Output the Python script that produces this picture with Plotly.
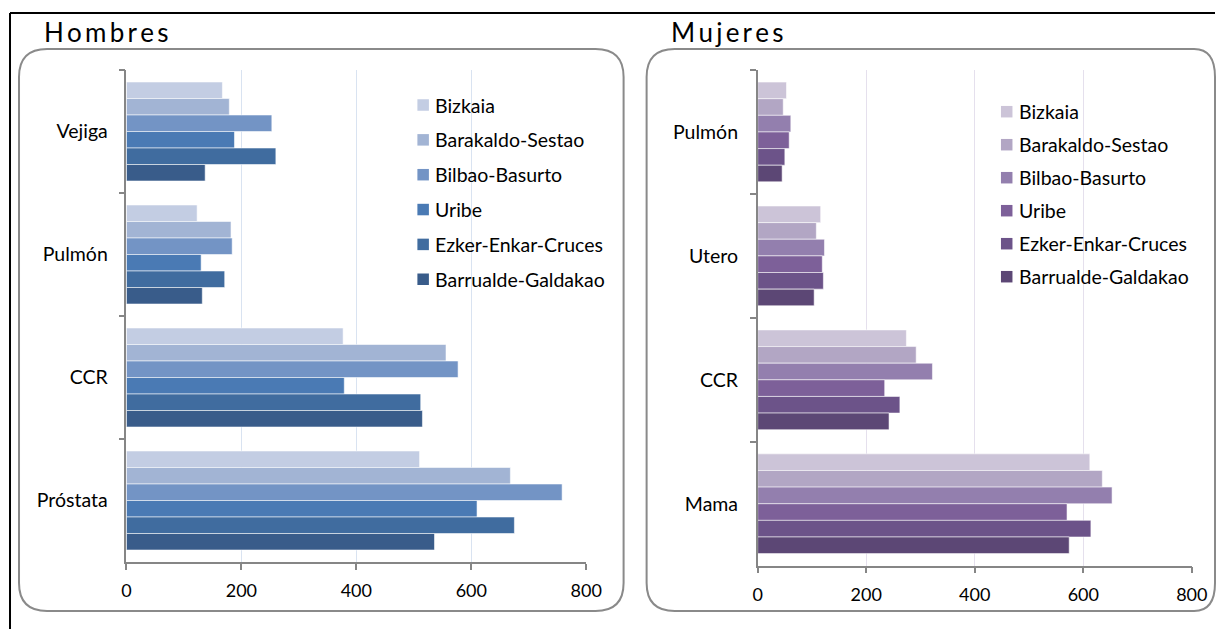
import plotly.graph_objects as go

W, H = 1231, 629

series = ["Bizkaia", "Barakaldo-Sestao", "Bilbao-Basurto", "Uribe",
          "Ezker-Enkar-Cruces", "Barrualde-Galdakao"]

# Hombres
cat_hombres = ["Vejiga", "Pulmón", "CCR", "Próstata"]
h_bizkaia = [167, 123, 377, 510]
h_barakaldo = [179, 182, 556, 668]
h_bilbao = [253, 184, 577, 758]
h_uribe = [188, 130, 379, 610]
h_ezker = [260, 171, 512, 675]
h_barrualde = [137, 132, 515, 536]

# Mujeres
cat_mujeres = ["Pulmón", "Utero", "CCR", "Mama"]
m_bizkaia = [53, 116, 274, 612]
m_barakaldo = [47, 108, 292, 635]
m_bilbao = [61, 123, 322, 653]
m_uribe = [58, 119, 234, 570]
m_ezker = [50, 121, 262, 614]
m_barrualde = [45, 104, 242, 574]

x_ticks = [0, 200, 400, 600, 800]

colors_h = ["#c3cde3", "#a2b4d4", "#7394c5", "#4a7ab4", "#406c9f", "#395c8a"]
colors_m = ["#ccc4d8", "#b2a6c4", "#937fae", "#7d6099", "#6c5389", "#5c4775"]

vals_h = [h_bizkaia, h_barakaldo, h_bilbao, h_uribe, h_ezker, h_barrualde]
vals_m = [m_bizkaia, m_barakaldo, m_bilbao, m_uribe, m_ezker, m_barrualde]

FONT = "Lato"

# horizontal calibration of the rendered page
X_OFF, X_SCALE = 6.0, 0.982


def px(x):
    return min(1.0, max(0.0, ((x - X_OFF) / X_SCALE) / W))


def py(y):
    return 1 - y / H


fig = go.Figure()
for name, v, c in zip(series, vals_h, colors_h):
    fig.add_trace(go.Bar(y=cat_hombres, x=v, name=name, orientation="h",
                         marker=dict(color=c, line=dict(color="rgba(255,255,255,0.55)", width=1)),
                         xaxis="x", yaxis="y", showlegend=False))
for name, v, c in zip(series, vals_m, colors_m):
    fig.add_trace(go.Bar(y=cat_mujeres, x=v, name=name, orientation="h",
                         marker=dict(color=c, line=dict(color="rgba(255,255,255,0.55)", width=1)),
                         xaxis="x2", yaxis="y2", showlegend=False))

axis_common = dict(showline=True, linecolor="#868686", linewidth=1.5,
                   ticks="outside", ticklen=6, tickcolor="#868686", tickwidth=1.5,
                   zeroline=False)
xfont = dict(family=FONT, size=18, color="#000000")
yfont = dict(family=FONT, size=19.5, color="#000000")

fig.update_layout(
    width=W, height=H, margin=dict(l=0, r=0, t=0, b=0),
    paper_bgcolor="white", plot_bgcolor="white",
    barmode="group", bargap=0.195, bargroupgap=0,
    font=dict(family=FONT, size=18, color="#000000"),
    xaxis=dict(domain=[px(127.3), px(586.7)], range=[0, 800], anchor="y",
               tickvals=x_ticks, showgrid=True, gridcolor="#d9e3f1", gridwidth=1,
               ticklabelstandoff=6, tickfont=xfont, **axis_common),
    yaxis=dict(domain=[py(562), py(70)], anchor="x", type="category",
               categoryorder="array", categoryarray=cat_hombres,
               range=[3.5, -0.5], tickson="boundaries", showgrid=False,
               ticklabelstandoff=13, tickfont=yfont, **axis_common),
    xaxis2=dict(domain=[px(758), px(1191.7)], range=[0, 800], anchor="y2",
                tickvals=x_ticks, showgrid=True, gridcolor="#e5e0ed", gridwidth=1,
                ticklabelstandoff=6, tickfont=xfont, **axis_common),
    yaxis2=dict(domain=[py(565.7), py(70)], anchor="x2", type="category",
                categoryorder="array", categoryarray=cat_mujeres,
                range=[3.5, -0.5], tickson="boundaries", showgrid=False,
                ticklabelstandoff=14, tickfont=yfont, **axis_common),
)


def rounded_box(x0, y0, x1, y1, r):
    pts = [
        f"M {px(x0 + r)} {py(y0)}",
        f"L {px(x1 - r)} {py(y0)}",
        f"Q {px(x1)} {py(y0)} {px(x1)} {py(y0 + r)}",
        f"L {px(x1)} {py(y1 - r)}",
        f"Q {px(x1)} {py(y1)} {px(x1 - r)} {py(y1)}",
        f"L {px(x0 + r)} {py(y1)}",
        f"Q {px(x0)} {py(y1)} {px(x0)} {py(y1 - r)}",
        f"L {px(x0)} {py(y0 + r)}",
        f"Q {px(x0)} {py(y0)} {px(x0 + r)} {py(y0)}",
        "Z",
    ]
    return dict(type="path", xref="paper", yref="paper", path=" ".join(pts),
                line=dict(color="#8a8a8a", width=2), fillcolor="rgba(0,0,0,0)", layer="below")


shapes = [
    rounded_box(20, 49, 624, 611, 28),
    rounded_box(647, 49, 1222, 611, 28),
    dict(type="line", xref="paper", yref="paper", x0=px(11), x1=px(11), y0=py(13), y1=0,
         line=dict(color="black", width=2)),
    dict(type="line", xref="paper", yref="paper", x0=px(11), x1=1, y0=py(13), y1=py(13),
         line=dict(color="black", width=2)),
]

annotations = [
    dict(text="H\u2009o\u2009m\u2009b\u2009r\u2009e\u2009s", x=px(43), y=py(32), xref="paper", yref="paper",
         xanchor="left", yanchor="middle", showarrow=False,
         font=dict(family=FONT, size=26, color="black")),
    dict(text="M\u2009u\u2009j\u2009e\u2009r\u2009e\u2009s", x=px(669), y=py(32), xref="paper", yref="paper",
         xanchor="left", yanchor="middle", showarrow=False,
         font=dict(family=FONT, size=26, color="black")),
]

# custom legends
legend_specs = [
    (colors_h, 418, 105, 34.85),
    (colors_m, 1001, 111.7, 33.0),
]
for cols, lx, ly0, step in legend_specs:
    for i, (name, c) in enumerate(zip(series, cols)):
        cy = ly0 + i * step
        shapes.append(dict(type="rect", xref="paper", yref="paper",
                           x0=px(lx), x1=px(lx + 11.5), y0=py(cy + 5.75), y1=py(cy - 5.75),
                           fillcolor=c, line=dict(width=0)))
        annotations.append(dict(text=name, x=px(lx + 16), y=py(cy), xref="paper", yref="paper",
                                xanchor="left", yanchor="middle", showarrow=False,
                                font=dict(family=FONT, size=19.5, color="black")))

fig.update_layout(shapes=shapes, annotations=annotations)

fig.write_html("out.html", config={"displayModeBar": False},
               post_script="document.body.style.margin='0';document.body.style.overflow='hidden';")
